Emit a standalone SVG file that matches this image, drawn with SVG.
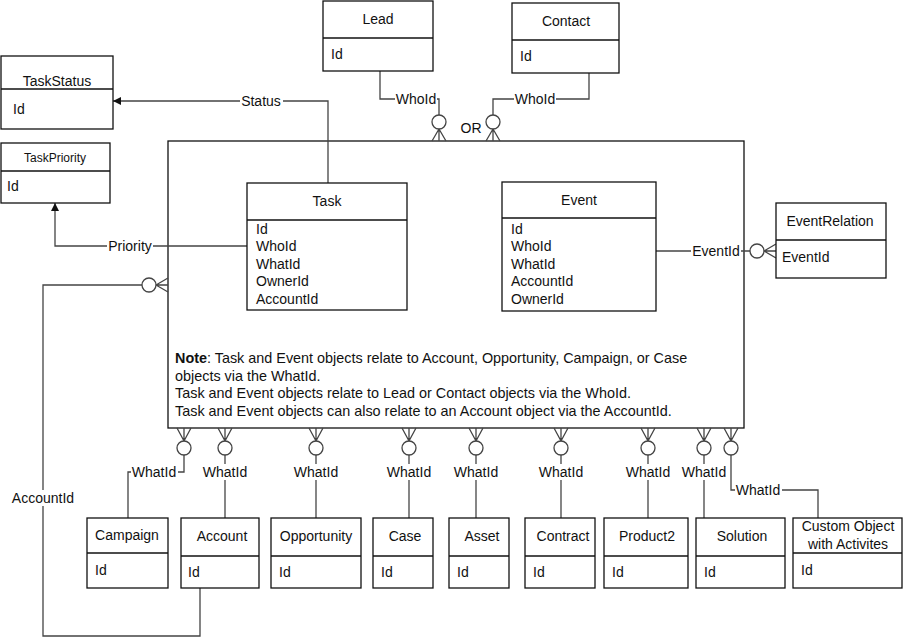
<svg xmlns="http://www.w3.org/2000/svg" width="904" height="637" viewBox="0 0 904 637">
<style>
text{font-family:"Liberation Sans",Arial,sans-serif;font-size:14px;fill:#111}
.t{text-anchor:middle}
.s{font-size:12px}
.n{font-size:14.4px}
.box{fill:#fff;stroke:#111;stroke-width:1.3}
.div{stroke:#111;stroke-width:1.3}
.c{fill:none;stroke:#444;stroke-width:1.3}
.o{fill:#fff;stroke:#444;stroke-width:1.3}
.lb{fill:#fff}
</style>
<defs>
<marker id="arr" viewBox="0 0 10 10" refX="10" refY="5" markerWidth="8" markerHeight="8" orient="auto" markerUnits="userSpaceOnUse">
<path d="M0,0 L10,5 L0,10 z" fill="#111"/>
</marker>
</defs>
<rect width="904" height="637" fill="#fff"/>

<g id="main-container">
<rect class="box" x="168" y="141" width="576" height="287"/>
<text class="n" x="175" y="363"><tspan font-weight="bold">Note</tspan>: Task and Event objects relate to Account, Opportunity, Campaign, or Case</text>
<text class="n" x="175" y="381">objects via the WhatId.</text>
<text class="n" x="175" y="398">Task and Event objects relate to Lead or Contact objects via the WhoId.</text>
<text class="n" x="175" y="416">Task and Event objects can also relate to an Account object via the AccountId.</text>
</g>

<g id="connectors">
<path class="c" d="M380,71 V99 H439 V115"/>
<rect class="lb" x="395" y="92" width="42" height="15"/>
<text class="t" x="416" y="104">WhoId</text>
<circle class="o" cx="439" cy="122" r="7"/>
<path class="c" d="M439,129 L432,141 M439,129 L439,141 M439,129 L446,141"/>
<path class="c" d="M589,73 V99 H493 V115"/>
<rect class="lb" x="514" y="92" width="42" height="15"/>
<text class="t" x="535" y="104">WhoId</text>
<circle class="o" cx="493" cy="122" r="7"/>
<path class="c" d="M493,129 L486,141 M493,129 L493,141 M493,129 L500,141"/>
<text class="t" x="471" y="133">OR</text>
<path class="c" d="M328,183 V101 H113" marker-end="url(#arr)"/>
<rect class="lb" x="240" y="93" width="43" height="15"/>
<text class="t" x="261" y="106">Status</text>
<path class="c" d="M247,246 H55 V203" marker-end="url(#arr)"/>
<rect class="lb" x="107" y="238" width="46" height="15"/>
<text class="t" x="130" y="251">Priority</text>
<path class="c" d="M656,251 H750"/>
<rect class="lb" x="691" y="243" width="50" height="15"/>
<text class="t" x="716" y="256">EventId</text>
<circle class="o" cx="757" cy="251" r="7"/>
<path class="c" d="M764,251 L776,244 M764,251 L776,251 M764,251 L776,258"/>
<path class="c" d="M200,588 V636 H43 V285 H142"/>
<rect class="lb" x="8" y="490" width="70" height="16"/>
<text class="t" x="43" y="503">AccountId</text>
<circle class="o" cx="149" cy="285" r="7"/>
<path class="c" d="M156,285 L168,278 M156,285 L168,285 M156,285 L168,292"/>
<path class="c" d="M184,455 V472 H128 V518"/>
<path class="c" d="M225,455 V518"/>
<path class="c" d="M316,455 V518"/>
<path class="c" d="M409,455 V518"/>
<path class="c" d="M476,455 V518"/>
<path class="c" d="M561,455 V518"/>
<path class="c" d="M648,455 V518"/>
<path class="c" d="M704,455 V518"/>
<path class="c" d="M731,455 V490 H818 V518"/>
<g>
<rect class="lb" x="131" y="464" width="47" height="16"/>
<rect class="lb" x="201" y="464" width="48" height="16"/>
<rect class="lb" x="292" y="464" width="48" height="16"/>
<rect class="lb" x="385" y="464" width="48" height="16"/>
<rect class="lb" x="452" y="464" width="48" height="16"/>
<rect class="lb" x="537" y="464" width="48" height="16"/>
<rect class="lb" x="624" y="464" width="48" height="16"/>
<rect class="lb" x="680" y="464" width="48" height="16"/>
<rect class="lb" x="735" y="482" width="47" height="16"/>
</g>
<text class="t" x="154" y="477">WhatId</text>
<text class="t" x="225" y="477">WhatId</text>
<text class="t" x="316" y="477">WhatId</text>
<text class="t" x="409" y="477">WhatId</text>
<text class="t" x="476" y="477">WhatId</text>
<text class="t" x="561" y="477">WhatId</text>
<text class="t" x="648" y="477">WhatId</text>
<text class="t" x="704" y="477">WhatId</text>
<text class="t" x="758" y="495">WhatId</text>
<g>
<circle class="o" cx="184" cy="448" r="7"/>
<circle class="o" cx="225" cy="448" r="7"/>
<circle class="o" cx="316" cy="448" r="7"/>
<circle class="o" cx="409" cy="448" r="7"/>
<circle class="o" cx="476" cy="448" r="7"/>
<circle class="o" cx="561" cy="448" r="7"/>
<circle class="o" cx="648" cy="448" r="7"/>
<circle class="o" cx="704" cy="448" r="7"/>
<circle class="o" cx="731" cy="448" r="7"/>
</g>
<path class="c" d="M184,441 L177,428 M184,441 L184,428 M184,441 L191,428
M225,441 L218,428 M225,441 L225,428 M225,441 L232,428
M316,441 L309,428 M316,441 L316,428 M316,441 L323,428
M409,441 L402,428 M409,441 L409,428 M409,441 L416,428
M476,441 L469,428 M476,441 L476,428 M476,441 L483,428
M561,441 L554,428 M561,441 L561,428 M561,441 L568,428
M648,441 L641,428 M648,441 L648,428 M648,441 L655,428
M704,441 L697,428 M704,441 L704,428 M704,441 L711,428
M731,441 L724,428 M731,441 L731,428 M731,441 L738,428"/>
</g>

<g id="lead"><rect class="box" x="323" y="1" width="110" height="70"/><line class="div" x1="323" y1="38" x2="433" y2="38"/><text class="t" x="378" y="24">Lead</text><text x="331" y="59">Id</text></g>
<g id="contact"><rect class="box" x="512" y="3" width="107" height="70"/><line class="div" x1="512" y1="40" x2="619" y2="40"/><text class="t" x="566" y="26">Contact</text><text x="520" y="61">Id</text></g>
<g id="taskstatus"><rect class="box" x="1" y="56" width="112" height="73"/><line class="div" x1="1" y1="89" x2="113" y2="89"/><text class="t" x="57" y="86">TaskStatus</text><text x="13" y="114">Id</text></g>
<g id="taskpriority"><rect class="box" x="1" y="143" width="109" height="60"/><line class="div" x1="1" y1="171" x2="110" y2="171"/><text class="t s" x="55" y="162">TaskPriority</text><text x="7" y="191">Id</text></g>
<g id="task"><rect class="box" x="247" y="183" width="160" height="127"/><line class="div" x1="247" y1="220" x2="407" y2="220"/><text class="t" x="327" y="206">Task</text>
<text x="256" y="234">Id</text><text x="256" y="251">WhoId</text><text x="256" y="269">WhatId</text><text x="256" y="286">OwnerId</text><text x="256" y="304">AccountId</text></g>
<g id="event"><rect class="box" x="502" y="182" width="154" height="129"/><line class="div" x1="502" y1="218" x2="656" y2="218"/><text class="t" x="579" y="205">Event</text>
<text x="511" y="234">Id</text><text x="511" y="251">WhoId</text><text x="511" y="269">WhatId</text><text x="511" y="286">AccountId</text><text x="511" y="304">OwnerId</text></g>
<g id="eventrelation"><rect class="box" x="776" y="203" width="110" height="75"/><line class="div" x1="776" y1="240" x2="886" y2="240"/><text class="t" x="830" y="226">EventRelation</text><text x="782" y="262">EventId</text></g>

<g id="campaign"><rect class="box" x="87" y="518" width="81" height="70"/><line class="div" x1="87" y1="553" x2="168" y2="553"/><text class="t" x="127" y="540">Campaign</text><text x="95" y="575">Id</text></g>
<g id="account"><rect class="box" x="181" y="518" width="78" height="70"/><line class="div" x1="181" y1="556" x2="259" y2="556"/><text class="t" x="222" y="541">Account</text><text x="188" y="577">Id</text></g>
<g id="opportunity"><rect class="box" x="271" y="518" width="90" height="70"/><line class="div" x1="271" y1="556" x2="361" y2="556"/><text class="t" x="316" y="541">Opportunity</text><text x="279" y="577">Id</text></g>
<g id="case"><rect class="box" x="373" y="518" width="60" height="70"/><line class="div" x1="373" y1="556" x2="433" y2="556"/><text class="t" x="405" y="541">Case</text><text x="381" y="577">Id</text></g>
<g id="asset"><rect class="box" x="449" y="518" width="60" height="70"/><line class="div" x1="449" y1="556" x2="509" y2="556"/><text class="t" x="482" y="541">Asset</text><text x="457" y="577">Id</text></g>
<g id="contract"><rect class="box" x="525" y="518" width="70" height="70"/><line class="div" x1="525" y1="556" x2="595" y2="556"/><text class="t" x="563" y="541">Contract</text><text x="533" y="577">Id</text></g>
<g id="product2"><rect class="box" x="604" y="518" width="84" height="70"/><line class="div" x1="604" y1="556" x2="688" y2="556"/><text class="t" x="647" y="541">Product2</text><text x="612" y="577">Id</text></g>
<g id="solution"><rect class="box" x="696" y="518" width="89" height="70"/><line class="div" x1="696" y1="556" x2="785" y2="556"/><text class="t" x="742" y="541">Solution</text><text x="704" y="577">Id</text></g>
<g id="custom"><rect class="box" x="793" y="518" width="109" height="70"/><line class="div" x1="793" y1="553" x2="902" y2="553"/><text class="t" x="848" y="531">Custom Object</text><text class="t" x="848" y="549">with Activites</text><text x="801" y="575">Id</text></g>
</svg>
